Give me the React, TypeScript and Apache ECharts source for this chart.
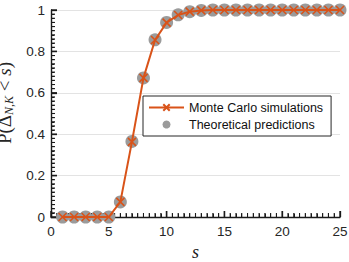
import React, { useEffect, useRef } from "react";
import * as echarts from "echarts";

const sValues = [1, 2, 3, 4, 5, 6, 7, 8, 9, 10, 11, 12, 13, 14, 15, 16, 17, 18, 19, 20, 21, 22, 23, 24, 25];
const monteCarlo = [0, 0, 0, 0, 0, 0.073, 0.363, 0.672, 0.855, 0.939, 0.976, 0.992, 0.998, 1, 1, 1, 1, 1, 1, 1, 1, 1, 1, 1, 1];
const theoretical = [0, 0, 0, 0, 0, 0.073, 0.365, 0.672, 0.856, 0.94, 0.977, 0.992, 0.998, 1, 1, 1, 1, 1, 1, 1, 1, 1, 1, 1, 1];
const seriesNames = ["Monte Carlo simulations", "Theoretical predictions"];

// axis decoration: minor tick positions (major every 5 on x, every 0.2 on y)
const xTickPositions = Array.from({ length: 51 }, (_, i) => i * 0.5);
const yTickPositions = Array.from({ length: 51 }, (_, i) => i / 50);

const ORANGE = "#D95319";
const GRAY = "#9b9b9b";
const AXIS = "#1a1a1a";

export default function App() {
  const ref = useRef<HTMLDivElement>(null);
  useEffect(() => {
    if (!ref.current) return;
    const chart = echarts.init(ref.current, null, { renderer: "svg" });
    chart.setOption({
      animation: false,
      grid: { left: 51, right: 9, top: 10, bottom: 45, containLabel: false, outerBoundsMode: "none" },
      legend: {
        orient: "vertical",
        left: 143,
        top: 96,
        width: 186,
        itemWidth: 35,
        itemHeight: 8,
        itemGap: 4,
        padding: [5, 8, 5, 5],
        backgroundColor: "#ffffff",
        borderColor: "#262626",
        borderWidth: 1,
        borderRadius: 0,
        textStyle: { fontFamily: "Liberation Sans", fontSize: 12.5, color: "#111" },
        data: [seriesNames[0], seriesNames[1]],
      },
      xAxis: {
        type: "value",
        min: 0,
        max: 25,
        interval: 5,
        name: "s",
        nameLocation: "middle",
        nameGap: 26,
        nameTextStyle: { fontFamily: "Liberation Serif", fontStyle: "italic", fontSize: 18, color: AXIS },
        axisLine: { show: true, lineStyle: { color: AXIS, width: 1.4 } },
        axisTick: { show: true, inside: true, length: 6, lineStyle: { color: AXIS, width: 1.3 } },
        minorTick: { show: true, splitNumber: 10, length: 3.5, lineStyle: { color: AXIS, width: 1 } },
        axisLabel: { fontFamily: "Liberation Sans", fontSize: 13.5, color: "#262626", margin: 7 },
        splitLine: { show: false },
      },
      yAxis: {
        type: "value",
        min: 0,
        max: 1,
        interval: 0.2,
        name: "{p|P(Δ}{sub|N,K}{p| < }{it|s}{p|)}",
        nameLocation: "middle",
        nameGap: 27,
        nameRotate: 90,
        nameTextStyle: {
          color: AXIS,
          padding: [0, 0, 0, 21],
          rich: {
            p: { fontFamily: "Liberation Serif", fontSize: 19, lineHeight: 21, color: "#262626" },
            sub: { fontFamily: "Liberation Serif", fontStyle: "italic", fontSize: 12, color: "#262626", verticalAlign: "bottom", padding: [6, 0, 0, 0] },
            it: { fontFamily: "Liberation Serif", fontStyle: "italic", fontSize: 19, lineHeight: 21, color: "#262626" },
          },
        },
        axisLine: { show: true, lineStyle: { color: AXIS, width: 1.4 } },
        axisTick: { show: true, inside: true, length: 6, lineStyle: { color: AXIS, width: 1.3 } },
        minorTick: { show: true, splitNumber: 10, length: 3.5, lineStyle: { color: AXIS, width: 1 } },
        axisLabel: { fontFamily: "Liberation Sans", fontSize: 13.5, color: "#262626", margin: 6 },
        splitLine: { show: true, lineStyle: { color: "#e3e3e3", width: 1 } },
      },
      series: [
        {
          type: "custom",
          silent: true,
          clip: false,
          z: 4,
          data: xTickPositions.map((v) => [v, 0]),
          renderItem: (_params: any, api: any) => {
            const v = api.value(0);
            const p = api.coord([v, 0]);
            const major = Math.abs(v / 5 - Math.round(v / 5)) < 1e-6;
            const len = major ? 6 : 4;
            return {
              type: "line",
              shape: { x1: p[0], y1: p[1], x2: p[0], y2: p[1] - len },
              style: { stroke: AXIS, lineWidth: major ? 1.4 : 1.1, fill: null },
            };
          },
        },
        {
          type: "custom",
          silent: true,
          clip: false,
          z: 4,
          data: yTickPositions.map((v) => [0, v]),
          renderItem: (_params: any, api: any) => {
            const v = api.value(1);
            const p = api.coord([0, v]);
            const major = Math.abs(v * 5 - Math.round(v * 5)) < 1e-6;
            const len = major ? 6 : 4;
            return {
              type: "line",
              shape: { x1: p[0], y1: p[1], x2: p[0] + len, y2: p[1] },
              style: { stroke: AXIS, lineWidth: major ? 1.4 : 1.1, fill: null },
            };
          },
        },
        {
          name: seriesNames[1],
          type: "scatter",
          data: sValues.map((s, i) => [s, theoretical[i]]),
          symbol: "circle",
          symbolSize: 13,
          itemStyle: { color: GRAY, opacity: 1 },
          z: 5,
        },
        {
          name: seriesNames[0],
          type: "line",
          data: sValues.map((s, i) => [s, monteCarlo[i]]),
          symbol: "path://M0,0L10,10M10,0L0,10",
          symbolSize: 8,
          showSymbol: true,
          lineStyle: { color: ORANGE, width: 2 },
          itemStyle: { color: ORANGE, borderColor: ORANGE, borderWidth: 1.6 },
          z: 6,
        },
      ],
    });
    return () => chart.dispose();
  }, []);
  return <div ref={ref} style={{ width: 349, height: 262, position: "absolute", left: 0, top: 0 }} />;
}
